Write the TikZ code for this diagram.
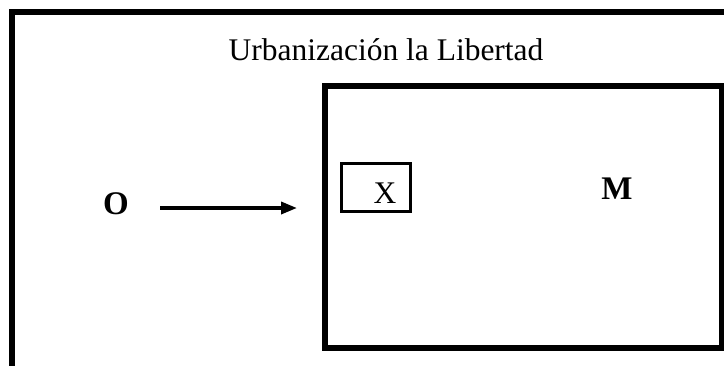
\documentclass[tikz,border=0pt]{standalone}
\usepackage{fontspec}
\setmainfont{Liberation Serif}
\usetikzlibrary{arrows.meta}

\tikzset{
  frame/.style={draw,line width=6pt},
  xbox/.style={draw,line width=3pt,minimum width=69pt,minimum height=48pt},
  lbl/.style={font=\fontsize{31.5}{36}\selectfont,anchor=base,inner sep=0pt},
  blbl/.style={lbl,font=\fontsize{33}{38}\selectfont\bfseries},
}

\begin{document}
\begin{tikzpicture}[x=1pt,y=-1pt]
    \useasboundingbox (0,0) rectangle (724,365);
    \clip (0,0) rectangle (724,365);
    \draw[frame] (12,11.5) rectangle (760,400);
    \draw[frame] (325,85.5) rectangle (722,347.5);
    \node[lbl] (T) at (386,60) {Urbanización la Libertad};
    \node[blbl] (O) at (116,214) {O};
    \node[blbl] (M) at (617,199) {M};
    \node[xbox] (B) at (376,187.5) {};
    \node[lbl] (X) at (385,203) {X};
    \coordinate (a0) at (160,208);
    \coordinate (a1) at (297,208);
    \path[-{Triangle[length=16pt,width=12pt]},line width=3.5pt] (a0) edge (a1);
\end{tikzpicture}
\end{document}
